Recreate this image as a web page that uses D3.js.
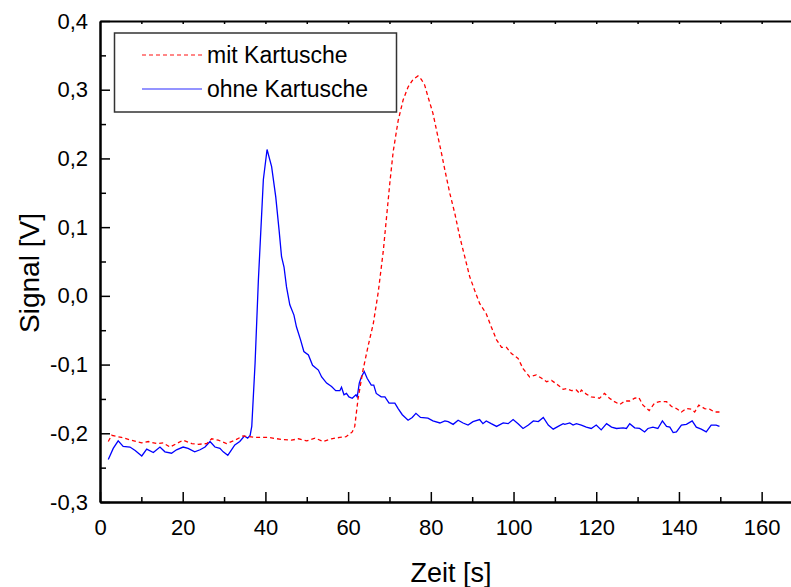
<!DOCTYPE html>
<html>
<head>
<meta charset="utf-8">
<script src="https://cdn.jsdelivr.net/npm/d3@7"></script>
<style>
  body { margin: 0; background: #fff; }
  text { font-family: "Liberation Sans", Arial, sans-serif; fill: #000; }
</style>
</head>
<body>
<div id="chart"></div>
<script>
// mit Kartusche (red, dashed)
var tMit = [2.0, 2.8, 5.2, 7.6, 10.1, 11.7, 13.7, 15.3, 16.9, 18.5, 20.1, 22.2, 23.8, 25.8, 27.0, 28.6, 30.6, 32.6, 34.6,
  37.5, 40.7, 43.9, 46.3, 48, 50, 52, 54, 56, 58, 59.5, 61, 61.6, 62.4, 63.6, 64.8, 66.1, 67.3, 68.5, 69.3, 70.1, 70.9,
  72.1, 73.3, 74.5, 75.7, 76.9, 77.7, 78.5, 79.3, 80.5, 81.7, 82.6, 83.4, 84.6, 85.8, 87.0, 88.2, 89.4, 90.6, 91.8, 93.4,
  94.6, 95.9, 97.1, 98.3, 99.5, 101.1, 102.3, 103.9, 105.5, 106.8, 108.0, 109.2, 110.8, 112.0, 112.8, 114.0, 115.2, 116.0,
  116.4, 117.6, 118.8, 120.0, 120.8, 122.0, 123.2, 124.4, 125.7, 126.9, 128.1, 129.3, 130.3, 131.3, 132.8, 134.1, 135.3,
  137.0, 138.2, 139.4, 140.6, 141.8, 143.0, 143.8, 144.8, 146.2, 147.4, 148.6, 149.8];
var vMit = [-0.212, -0.203, -0.206, -0.210, -0.214, -0.212, -0.215, -0.214, -0.220, -0.215, -0.210, -0.215, -0.216, -0.215,
  -0.208, -0.210, -0.215, -0.210, -0.204, -0.206, -0.206, -0.209, -0.210, -0.208, -0.211, -0.207, -0.212, -0.208, -0.206,
  -0.205, -0.198, -0.190, -0.150, -0.108, -0.074, -0.040, 0.006, 0.065, 0.115, 0.165, 0.210, 0.255, 0.285, 0.304, 0.315,
  0.320, 0.315, 0.307, 0.290, 0.266, 0.232, 0.207, 0.183, 0.149, 0.120, 0.086, 0.057, 0.028, 0.008, -0.011, -0.026,
  -0.045, -0.064, -0.075, -0.075, -0.084, -0.091, -0.106, -0.118, -0.115, -0.120, -0.125, -0.123, -0.130, -0.136, -0.135,
  -0.138, -0.137, -0.142, -0.137, -0.143, -0.147, -0.148, -0.149, -0.142, -0.149, -0.154, -0.158, -0.153, -0.153, -0.149,
  -0.148, -0.159, -0.167, -0.156, -0.154, -0.154, -0.161, -0.164, -0.169, -0.164, -0.165, -0.169, -0.159, -0.164, -0.165,
  -0.169, -0.169];

// ohne Kartusche (blue, solid)
var tOhne = [2.0, 3.2, 4.4, 5.6, 7.25, 8.5, 10.1, 11.3, 12.9, 14.5, 15.7, 17.3, 18.5, 20.1, 21.3, 22.9, 24.2, 25.4, 26.6,
  27.8, 29.0, 29.8, 30.9, 31.8, 32.6, 33.8, 34.9, 35.7, 36.3, 36.7, 37.5, 38.3, 39.1, 39.5, 40.4, 41.5, 42.5, 43.3, 43.9,
  44.5, 45.1, 45.9, 46.9, 47.5, 48.5, 49.3, 50.4, 51.4, 52.8, 53.6, 54.8, 56.0, 57.0, 58.0, 58.4, 59.0, 59.6, 60.2, 61.0,
  61.9, 62.2, 62.7, 63.2, 63.9, 64.6, 65.6, 66.2, 66.8, 68.0, 68.9, 69.9, 71.3, 72.1, 73.1, 74.5, 75.5, 76.4, 77.5, 79.3,
  80.5, 82.2, 83.4, 84.2, 85.4, 86.6, 87.8, 89.0, 90.2, 91.8, 92.6, 93.4, 94.6, 95.9, 97.5, 98.7, 99.9, 101.1, 102.3,
  103.6, 104.8, 106.0, 107.2, 108.4, 109.6, 110.8, 112.0, 112.4, 113.6, 114.4, 115.2, 116.4, 117.6, 118.8, 120.0, 121.2,
  122.5, 123.7, 124.9, 126.5, 127.3, 128.1, 129.3, 130.5, 131.7, 132.5, 133.7, 134.9, 136.0, 137.0, 137.8, 138.6, 139.4,
  140.6, 141.8, 143.2, 144.2, 145.4, 146.6, 147.8, 149.0, 149.8];
var vOhne = [-0.238, -0.222, -0.211, -0.219, -0.220, -0.225, -0.233, -0.223, -0.228, -0.220, -0.227, -0.229, -0.224,
  -0.220, -0.222, -0.227, -0.224, -0.220, -0.212, -0.220, -0.222, -0.227, -0.232, -0.224, -0.217, -0.212, -0.204, -0.207,
  -0.203, -0.190, -0.098, 0.023, 0.120, 0.169, 0.213, 0.188, 0.144, 0.096, 0.057, 0.042, 0.013, -0.013, -0.028, -0.045,
  -0.064, -0.081, -0.086, -0.101, -0.108, -0.118, -0.127, -0.132, -0.138, -0.138, -0.133, -0.144, -0.142, -0.147, -0.149,
  -0.144, -0.147, -0.127, -0.118, -0.110, -0.120, -0.130, -0.130, -0.142, -0.147, -0.147, -0.156, -0.156, -0.164, -0.173,
  -0.181, -0.177, -0.171, -0.177, -0.178, -0.182, -0.185, -0.182, -0.183, -0.187, -0.181, -0.185, -0.188, -0.183, -0.180,
  -0.186, -0.182, -0.186, -0.190, -0.185, -0.186, -0.180, -0.186, -0.193, -0.188, -0.182, -0.183, -0.177, -0.188, -0.194,
  -0.190, -0.186, -0.187, -0.185, -0.188, -0.186, -0.188, -0.191, -0.193, -0.188, -0.195, -0.186, -0.191, -0.193, -0.192,
  -0.193, -0.186, -0.192, -0.193, -0.198, -0.193, -0.191, -0.193, -0.182, -0.190, -0.191, -0.199, -0.198, -0.188, -0.187,
  -0.182, -0.191, -0.194, -0.198, -0.188, -0.188, -0.190];

var xTicks = [0, 20, 40, 60, 80, 100, 120, 140, 160];
var yTicks = [-0.3, -0.2, -0.1, 0.0, 0.1, 0.2, 0.3, 0.4];
var seriesNames = ["mit Kartusche", "ohne Kartusche"];

var width = 791, height = 587;
var margin = {left: 100, top: 21, right: -12, bottom: 85};

var svg = d3.select("#chart").append("svg")
  .attr("width", width)
  .attr("height", height);

var x = d3.scaleLinear().domain([0, 170]).range([margin.left, width - margin.right]);
var y = d3.scaleLinear().domain([-0.3, 0.4]).range([height - margin.bottom, margin.top]);

var fmt = function(d) { return d3.format(".1f")(d).replace(".", ",").replace("−", "-"); };

var line = d3.line()
  .x(function(d) { return x(d[0]); })
  .y(function(d) { return y(d[1]); });

var mit = d3.zip(tMit, vMit);
var ohne = d3.zip(tOhne, vOhne);

svg.append("path").datum(ohne)
  .attr("d", line)
  .attr("fill", "none")
  .attr("stroke", "#0000ff")
  .attr("stroke-width", 1.3);

svg.append("path").datum(mit)
  .attr("d", line)
  .attr("fill", "none")
  .attr("stroke", "#ff0000")
  .attr("stroke-width", 1.3)
  .attr("stroke-dasharray", "4,3");

// axes
var axBottom = svg.append("g")
  .attr("transform", "translate(0," + y(-0.3) + ")")
  .call(d3.axisBottom(x).tickValues(xTicks).tickSize(-10).tickSizeOuter(0).tickPadding(17).tickFormat(d3.format("d")));
var axBottomMinor = svg.append("g")
  .attr("transform", "translate(0," + y(-0.3) + ")")
  .call(d3.axisBottom(x).tickValues(d3.range(10, 170, 20)).tickSize(-5).tickSizeOuter(0).tickFormat(""));
var axLeft = svg.append("g")
  .attr("transform", "translate(" + x(0) + ",0)")
  .call(d3.axisLeft(y).tickValues(yTicks).tickSize(-10).tickSizeOuter(0).tickPadding(12).tickFormat(fmt));
var axLeftMinor = svg.append("g")
  .attr("transform", "translate(" + x(0) + ",0)")
  .call(d3.axisLeft(y).tickValues([-0.25, -0.15, -0.05, 0.05, 0.15, 0.25, 0.35]).tickSize(-6).tickSizeOuter(0).tickFormat(""));
var axTop = svg.append("g")
  .attr("transform", "translate(0," + y(0.4) + ")")
  .call(d3.axisTop(x).tickValues(d3.range(10, 170, 10)).tickSize(-3).tickSizeOuter(0).tickFormat(""));

[axBottom, axBottomMinor, axLeft, axLeftMinor, axTop].forEach(function(g) {
  g.selectAll("path").attr("stroke", "#000").attr("stroke-width", 2);
  g.selectAll("line").attr("stroke", "#000").attr("stroke-width", 1.5);
  g.selectAll("text").style("font-size", "22px").attr("fill", "#000");
});
axBottom.selectAll("text").attr("dy", "0.71em");

svg.append("text")
  .attr("x", 451).attr("y", 582)
  .attr("text-anchor", "middle")
  .style("font-size", "27px")
  .text("Zeit [s]");

svg.append("text")
  .attr("transform", "translate(39,273) rotate(-90)")
  .attr("text-anchor", "middle")
  .style("font-size", "28px")
  .text("Signal [V]");

// legend
var lg = svg.append("g");
lg.append("rect")
  .attr("x", 114.5).attr("y", 33)
  .attr("width", 282).attr("height", 79)
  .attr("fill", "#fff")
  .attr("stroke", "#333")
  .attr("stroke-width", 1.5);

var legendY = [55, 89];
var legendColors = ["#ff6060", "#7070ff"];
seriesNames.forEach(function(name, i) {
  lg.append("line")
    .attr("x1", 142).attr("x2", 202)
    .attr("y1", legendY[i]).attr("y2", legendY[i])
    .attr("stroke", legendColors[i])
    .attr("stroke-width", 1.3)
    .attr("stroke-dasharray", i === 0 ? "4,3" : null);
  lg.append("text")
    .attr("x", 207).attr("y", legendY[i] + 8)
    .style("font-size", "23px")
    .text(name);
});
</script>
</body>
</html>
